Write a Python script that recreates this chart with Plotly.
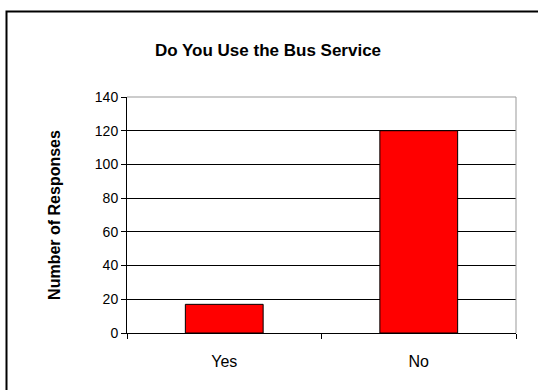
import plotly.graph_objects as go

categories = ["Yes", "No"]
responses = [17, 120]
y_ticks = [0, 20, 40, 60, 80, 100, 120, 140]

FONT = "Liberation Sans, Arial, sans-serif"

W, H = 538, 390
L, R, T, B = 127, 22, 97, 57
PW, PH = W - L - R, H - T - B

fig = go.Figure(
    go.Bar(
        x=categories,
        y=responses,
        width=0.4,
        marker=dict(color="#FF0000", line=dict(color="#000000", width=1)),
    )
)

fig.update_layout(
    width=W,
    height=H,
    margin=dict(l=L, r=R, t=T, b=B),
    paper_bgcolor="white",
    plot_bgcolor="white",
    showlegend=False,
    font=dict(family=FONT, size=14, color="black"),
    title=dict(
        text="<b>Do You Use the Bus Service</b>",
        x=268 / W, xanchor="center", y=1 - 50 / H, yanchor="middle",
        font=dict(family=FONT, size=17, color="black"),
    ),
    shapes=[
        dict(type="line", xref="paper", yref="paper",
             x0=0, x1=1, y0=1, y1=1,
             line=dict(color="#999999", width=1), layer="above"),
        dict(type="line", xref="paper", yref="paper",
             x0=1, x1=1, y0=0, y1=1,
             line=dict(color="#999999", width=1), layer="above"),
        dict(type="rect", xref="paper", yref="paper",
             x0=(6.5 - L) / PW, x1=1.3, y0=-0.5, y1=1 + (T - 11.5) / PH,
             line=dict(color="black", width=2), layer="above"),
    ],
)

fig.update_xaxes(
    type="category",
    showline=True, linecolor="black", linewidth=1,
    ticks="outside", tickson="boundaries", ticklen=5, tickcolor="black",
    ticklabelstandoff=14,
    showgrid=False, zeroline=False,
    tickfont=dict(family=FONT, size=16, color="black"),
)
fig.update_yaxes(
    range=[0, 140], tickvals=y_ticks,
    showline=True, linecolor="black", linewidth=1,
    ticks="outside", ticklen=5, tickcolor="black",
    showgrid=True, gridcolor="black", gridwidth=1,
    zeroline=False,
    tickfont=dict(family=FONT, size=14, color="black"),
    title=dict(text="<b>Number of Responses</b>", standoff=30,
               font=dict(family=FONT, size=16, color="black")),
)

fig.write_html(
    "out.html",
    config={"displayModeBar": False},
    post_script="document.body.style.margin='0';",
)
